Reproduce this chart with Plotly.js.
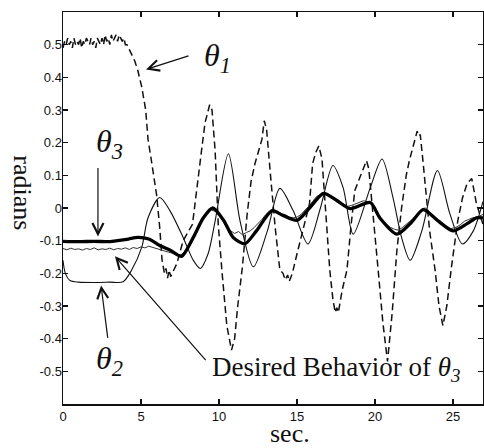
<!DOCTYPE html>
<html>
<head>
<meta charset="utf-8">
<script src="https://cdn.plot.ly/plotly-3.0.1.min.js"></script>
<style>html,body{margin:0;padding:0;background:#fff;}#chart{width:484px;height:448px;}</style>
</head>
<body>
<div id="chart"></div>
<script>
// ---- data ----
const theta1T = [0,0.1,0.2,0.3,0.4,0.5,0.6,0.7,0.8,0.9,1.0,1.1,1.2,1.3,1.4,1.5,1.6,1.7,1.8,1.9,2.0,2.1,2.2,2.3,2.4,2.5,2.6,2.7,2.8,2.9,3.0,3.1,3.2,3.3,3.4,3.5,3.6,3.7,3.8,3.9,4.0,4.1,4.2,
  4.4,4.6,4.8,5.05,5.3,5.45,5.65,5.85,6.0,6.2,6.35,6.5,6.6,6.7,6.8,6.9,7.1,7.3,7.7,8.3,8.8,9.1,9.4,9.55,9.75,9.95,10.2,10.5,10.8,11.0,11.2,11.5,11.8,12.05,12.3,12.6,12.75,12.9,13.05,13.3,13.6,13.9,14.1,14.25,14.4,14.5,14.7,15.0,15.4,15.8,16.0,16.2,16.4,16.6,16.85,17.1,17.3,17.45,17.55,17.65,17.9,18.2,18.45,18.7,19.0,19.3,19.45,19.6,19.85,20.2,20.5,20.8,21.1,21.4,21.7,22.0,22.2,22.5,22.7,22.8,22.9,23.1,23.5,23.85,24.1,24.35,24.6,24.9,25.3,25.6,25.9,26.2,26.5,26.92];
const theta1V = [0.49,0.51,0.5,0.52,0.5,0.51,0.49,0.52,0.5,0.51,0.5,0.52,0.49,0.51,0.5,0.52,0.51,0.5,0.52,0.5,0.51,0.49,0.52,0.51,0.5,0.52,0.5,0.53,0.51,0.52,0.5,0.53,0.51,0.52,0.53,0.51,0.53,0.52,0.51,0.52,0.5,0.5,0.49,
  0.47,0.45,0.42,0.37,0.30,0.21,0.15,0.08,0.04,-0.06,-0.16,-0.2,-0.185,-0.215,-0.19,-0.21,-0.19,-0.17,-0.1,-0.05,0.145,0.26,0.316,0.3,0.176,-0.05,-0.2,-0.36,-0.435,-0.4,-0.3,-0.18,-0.02,0.08,0.135,0.19,0.21,0.267,0.24,0.1,-0.06,-0.19,-0.2,-0.22,-0.205,-0.225,-0.2,-0.14,-0.06,0.013,0.136,0.17,0.19,0.15,-0.02,-0.19,-0.28,-0.32,-0.305,-0.32,-0.25,-0.19,-0.06,0.053,0.09,0.125,0.145,0.12,-0.02,-0.19,-0.35,-0.47,-0.32,-0.13,0.0,0.1,0.145,0.2,0.235,0.22,0.225,0.13,-0.07,-0.19,-0.3,-0.36,-0.3,-0.18,-0.04,0.03,0.075,0.09,0.013,-0.05];

const theta2T = [0,0.15,0.45,1,2,3,3.85,4.4,5.05,5.45,6.2,6.85,7.7,8.35,8.8,9.3,9.75,10.6,11.35,12.2,13.1,13.9,14.75,15.7,16.5,17.3,17.95,18.6,19.7,20.45,21.15,21.7,22.25,23.0,24.0,24.8,25.6,26.3,26.92];
const theta2V = [-0.16,-0.2,-0.222,-0.227,-0.228,-0.227,-0.226,-0.19,-0.12,-0.03,0.032,-0.008,-0.09,-0.16,-0.185,-0.14,-0.04,0.166,-0.04,-0.18,-0.07,0.06,-0.008,-0.11,0.0,0.13,0.063,-0.08,0.063,0.15,0.032,-0.09,-0.16,-0.07,0.115,-0.018,-0.11,-0.07,0.02];

const theta3T = [0,1,2,3,3.5,4.2,4.8,5.5,6.2,6.9,7.6,8.35,9.0,9.6,10.3,10.9,11.65,12.4,13.4,14.1,15.0,15.8,16.7,17.55,18.4,19.7,20.3,21.4,22.25,23.1,24.0,25.0,25.9,26.5,26.92];
const theta3V = [-0.102,-0.103,-0.102,-0.103,-0.1,-0.095,-0.09,-0.095,-0.115,-0.13,-0.148,-0.09,-0.03,0.0,-0.038,-0.09,-0.11,-0.07,-0.008,-0.023,-0.038,0.0,0.045,0.023,-0.002,0.017,-0.03,-0.08,-0.048,-0.005,-0.038,-0.07,-0.048,-0.03,-0.03];

const desiredT = [0,0.25,0.5,0.75,1,1.25,1.5,1.75,2,2.25,2.5,2.75,3,3.25,3.5,3.75,4,4.25,4.5,4.75,5,5.25,5.5,5.75,6,6.25,6.5,6.75,7,7.25,7.5,7.75,8,8.25,8.5,8.75,9,9.25,9.5,9.75,10,10.25,10.5,10.75,11,11.25,11.5,11.75,12,12.25,12.5,12.75,13,13.25,13.5,13.75,14,14.25,14.5,14.75,15,15.25,15.5,15.75,16,16.25,16.5,16.75,17,17.25,17.5,17.75,18,18.25,18.5,18.75,19,19.25,19.5,19.75,20,20.25,20.5,20.75,21,21.25,21.5,21.75,22,22.25,22.5,22.75,23,23.25,23.5,23.75,24,24.25,24.5,24.75,25,25.25,25.5,25.75,26,26.25,26.5,26.75,26.92];
const desiredV = [-0.124,-0.128,-0.123,-0.127,-0.125,-0.129,-0.124,-0.127,-0.122,-0.128,-0.125,-0.127,-0.123,-0.128,-0.124,-0.126,-0.122,-0.127,-0.121,-0.124,-0.119,-0.122,-0.117,-0.121,-0.124,-0.128,-0.131,-0.135,-0.138,-0.143,-0.145,-0.136,-0.118,-0.096,-0.075,-0.052,-0.03,-0.014,-0.006,-0.01,-0.022,-0.04,-0.062,-0.07,-0.078,-0.072,-0.082,-0.075,-0.07,-0.06,-0.048,-0.035,-0.02,-0.01,-0.006,-0.012,-0.018,-0.02,-0.028,-0.03,-0.028,-0.02,-0.008,0.005,0.02,0.035,0.04,0.042,0.038,0.03,0.025,0.018,0.01,0.005,0.008,0.012,0.018,0.022,0.02,0.012,-0.005,-0.022,-0.04,-0.05,-0.06,-0.065,-0.068,-0.06,-0.05,-0.04,-0.03,-0.015,-0.002,0.0,-0.012,-0.025,-0.04,-0.05,-0.058,-0.065,-0.062,-0.058,-0.05,-0.04,-0.035,-0.03,-0.028,-0.022,-0.02];

const xTickVals = [0,5,10,15,20,25];
const yTickVals = [-0.5,-0.4,-0.3,-0.2,-0.1,0,0.1,0.2,0.3,0.4,0.5];
const yTickText = ['-0.5','-0.4','-0.3','-0.2','-0.1','0','0.1','0.2','0.3','0.4','0.5'];

// ---- traces ----
const traces = [
  {x: theta1T, y: theta1V, mode:'lines', name:'θ1', line:{color:'#111', width:1.5, dash:'7px,4px'}},
  {x: theta2T, y: theta2V, mode:'lines', name:'θ2', line:{color:'#111', width:1.1, shape:'spline', smoothing:0.8}},
  {x: desiredT, y: desiredV, mode:'lines', name:'Desired θ3', line:{color:'#333', width:1.0}},
  {x: theta3T, y: theta3V, mode:'lines', name:'θ3', line:{color:'#000', width:3.3, shape:'spline', smoothing:0.7}}
];

const serif = 'Liberation Serif, Times New Roman, serif';
const arrowCommon = {text:'', showarrow:true, arrowhead:5, arrowsize:1.8, arrowwidth:1.2, arrowcolor:'#111', xref:'x', yref:'y', axref:'x', ayref:'y'};

const layout = {
  width:484, height:448,
  margin:{l:63, r:1, t:12, b:44},
  paper_bgcolor:'#fff', plot_bgcolor:'#fff',
  showlegend:false,
  xaxis:{range:[0,26.92], tickvals:xTickVals, ticks:'inside', ticklen:5, tickwidth:1.2, tickcolor:'#111',
         showline:true, linecolor:'#111', linewidth:1.5, mirror:'ticks', showgrid:false, zeroline:false,
         tickfont:{family:'Liberation Sans, Arial, sans-serif', size:13, color:'#111'}},
  yaxis:{range:[-0.6,0.6], tickvals:yTickVals, ticktext:yTickText, ticks:'inside', ticklen:5, tickwidth:1.2, tickcolor:'#111',
         showline:true, linecolor:'#111', linewidth:1.5, mirror:'ticks', showgrid:false, zeroline:false,
         ticklabelstandoff:-3,
         tickfont:{family:'Liberation Sans, Arial, sans-serif', size:13, color:'#111'}},
  annotations:[
    {text:'radians', xref:'paper', yref:'paper', x:-0.135, y:0.538, textangle:90, showarrow:false,
     font:{family:serif, size:26, color:'#111'}},
    {text:'sec.', xref:'paper', yref:'paper', x:0.54, y:-0.117, yanchor:'bottom', showarrow:false,
     font:{family:serif, size:26, color:'#111'}},
    {text:'<i>θ<sub>1</sub></i>', xref:'x', yref:'y', x:9.9, y:0.46, showarrow:false,
     font:{family:serif, size:32, color:'#111'}},
    Object.assign({}, arrowCommon, {x:5.32, y:0.424, ax:8.14, ay:0.467}),
    {text:'<i>θ<sub>3</sub></i>', xref:'x', yref:'y', x:3.0, y:0.197, showarrow:false,
     font:{family:serif, size:32, color:'#111'}},
    Object.assign({}, arrowCommon, {x:2.24, y:-0.087, ax:2.24, ay:0.127}),
    {text:'<i>θ<sub>2</sub></i>', xref:'x', yref:'y', x:3.0, y:-0.467, showarrow:false,
     font:{family:serif, size:32, color:'#111'}},
    Object.assign({}, arrowCommon, {x:2.44, y:-0.237, ax:2.88, ay:-0.402}),
    {text:'Desired Behavior of <i>θ<sub>3</sub></i>', xref:'x', yref:'y', x:9.42, y:-0.494, xanchor:'left', showarrow:false,
     font:{family:serif, size:27, color:'#111'}},
    Object.assign({}, arrowCommon, {x:3.33, y:-0.148, ax:9.23, ay:-0.47})
  ]
};

Plotly.newPlot('chart', traces, layout, {displayModeBar:false, staticPlot:true});
</script>
</body>
</html>
